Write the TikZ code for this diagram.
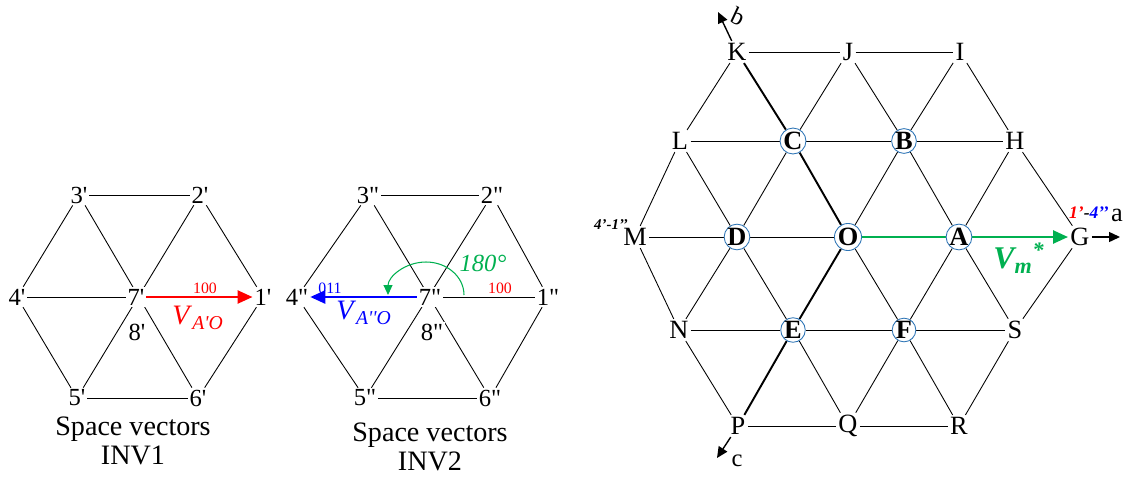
\documentclass[tikz,border=0pt]{standalone}
\usepackage{fontspec}
\setmainfont{Liberation Serif}
\definecolor{VecRed}  {RGB}{255, 0,   0}
\definecolor{VecBlue} {RGB}{0,   0,   255}
\definecolor{VecGreen}{RGB}{0,   176, 80}
\definecolor{RingBlue}{RGB}{46,  117, 182}
\usetikzlibrary{
  arrows.meta,
  backgrounds
}
\newcommand{\tq}{\textquotesingle}
\newcommand{\dq}{\textquotedbl}

\begin{document}
\begin{tikzpicture}[
  x=0.02cm, y=-0.02cm,
  lbl/.style={
    inner sep=1pt,
    font=\fontsize{14}{16}\selectfont},
  vtx/.style={
    inner sep=1.2pt,
    font=\fontsize{15}{17}\selectfont},
  ring/.style={
    circle, draw=RingBlue, fill=white,
    line width=0.5pt, inner sep=0pt,
    minimum size=0.38cm,
    font=\fontsize{15}{17}\selectfont\bfseries},
  caption/.style={
    align=center,
    font=\fontsize{16}{16.5}\selectfont},
  edge/.style={line width=0.5pt},
  axisline/.style={line width=1.1pt},
  vec/.style={
    -{Triangle[length=0.3cm, width=0.26cm]},
    line width=1.4pt},
  axarrow/.style={
    -{Triangle[length=0.22cm, width=0.2cm]},
    line width=0.8pt},
  note/.style={inner sep=0pt}
]
\useasboundingbox (0,0) rectangle (1130,477);

% INV1
\node[lbl] (a3) at (79,195) {3\tq};
\node[lbl] (a2) at (200,195) {2\tq};
\node[lbl] (a4) at (17,297) {4\tq};
\node[lbl] (a1) at (263,297) {1\tq};
\node[lbl] (a5) at (77,398) {5\tq};
\node[lbl] (a6) at (198,398) {6\tq};
\node[lbl, fill=white] (a7) at (136,297) {7\tq};
\node[lbl, fill=white] (a8) at (137,332) {8\tq};
\node[note, VecRed, font=\fontsize{9}{10}\selectfont]
  (a100) at (205,288) {100};
\node[note, VecRed, font=\fontsize{16}{18}\selectfont]
  (aV) at (198,318) {\textit{V}\textsubscript{\textit{A\tq O}}};
\node[caption] (acap) at (133,441) {Space vectors\\INV1};

\begin{scope}[on background layer]
\draw[edge] (a3) -- (a2);
\draw[edge] (a2) -- (a1);
\draw[edge] (a1) -- (a6);
\draw[edge] (a6) -- (a5);
\draw[edge] (a5) -- (a4);
\draw[edge] (a4) -- (a3);
\draw[edge] (a3) -- (a6);
\draw[edge] (a2) -- (a5);
\draw[edge] (a4) -- (a7);
\end{scope}
\draw[vec, VecRed] (a7) -- (a1);

% INV2
\node[lbl] (b3) at (368,195) {3\dq};
\node[lbl] (b2) at (492,195) {2\dq};
\node[lbl] (b4) at (297,297) {4\dq};
\node[lbl] (b1) at (548,297) {1\dq};
\node[lbl] (b5) at (365,398) {5\dq};
\node[lbl] (b6) at (490,398) {6\dq};
\node[lbl, fill=white] (b7) at (430,297) {7\dq};
\node[lbl, fill=white] (b8) at (432,332) {8\dq};
\node[note, VecBlue, font=\fontsize{9}{10}\selectfont]
  (b011) at (330,288) {011};
\node[note, VecRed, font=\fontsize{9}{10}\selectfont]
  (b100) at (500,288) {100};
\node[note, VecBlue, font=\fontsize{16}{18}\selectfont]
  (bV) at (364,313) {\textit{V}\textsubscript{\textit{A\tq\tq O}}};
\node[note, VecGreen, font=\fontsize{14}{16}\selectfont\itshape]
  (bang) at (483,263) {180°};
\node[caption] (bcap) at (430,447) {Space vectors\\INV2};

\begin{scope}[on background layer]
\draw[edge] (b3) -- (b2);
\draw[edge] (b2) -- (b1);
\draw[edge] (b1) -- (b6);
\draw[edge] (b6) -- (b5);
\draw[edge] (b5) -- (b4);
\draw[edge] (b4) -- (b3);
\draw[edge] (b3) -- (b6);
\draw[edge] (b2) -- (b5);
\draw[edge] (b7) -- (b1);
\end{scope}
\draw[vec, VecBlue] (b7) -- (b4);
\draw[VecGreen, line width=0.6pt,
  -{Triangle[length=0.2cm, width=0.18cm]}]
  (464,295) arc[start angle=0, end angle=180,
  x radius=0.76cm, y radius=0.66cm];

% combined hexagon
\node[vtx] (K) at (737,52) {K};
\node[vtx] (J) at (848,52) {J};
\node[vtx] (I) at (960,52) {I};
\node[vtx] (L) at (680,141) {L};
\node[ring] (C) at (793,141) {C};
\node[ring] (B) at (904,141) {B};
\node[vtx] (H) at (1015,141) {H};
\node[vtx] (M) at (635,237) {M};
\node[ring] (D) at (737,237) {D};
\node[ring] (O) at (848,237) {O};
\node[ring] (A) at (959,237) {A};
\node[vtx] (G) at (1080,237) {G};
\node[vtx] (N) at (679,330) {N};
\node[ring] (E) at (793,330) {E};
\node[ring] (F) at (904,330) {F};
\node[vtx] (S) at (1015,330) {S};
\node[vtx] (P) at (738,426) {P};
\node[vtx] (Q) at (848,426) {Q};
\node[vtx] (R) at (959,426) {R};

\coordinate (bEnd) at (718,12);
\coordinate (cEnd) at (717,458);
\coordinate (aEnd) at (1120,237);

\node[note, font=\fontsize{14}{16}\selectfont, rotate=-25]
  (bl) at (738,16) {b};
\node[note, font=\fontsize{14}{16}\selectfont]
  (cl) at (737,461) {c};
\node[note, font=\fontsize{15}{17}\selectfont]
  (al) at (1117,215) {a};
\node[note, font=\fontsize{8.5}{10}\selectfont\bfseries\itshape]
  (ml) at (611,225) {4'-1'{}'};
\node[note, font=\fontsize{10}{12}\selectfont\bfseries\itshape]
  (gl) at (1089,213)
  {\textcolor{VecRed}{1'}-\textcolor{VecBlue}{4'{}'}};
\node[note, VecGreen, font=\fontsize{18}{20}\selectfont\bfseries\itshape]
  (vm) at (1019,258) {V\textsubscript{m}\textsuperscript{*}};

\begin{scope}[on background layer]
% horizontal
\draw[edge] (K) -- (J);
\draw[edge] (J) -- (I);
\draw[edge] (L) -- (C);
\draw[edge] (C) -- (B);
\draw[edge] (B) -- (H);
\draw[edge] (M) -- (D);
\draw[edge] (D) -- (O);
\draw[edge] (N) -- (E);
\draw[edge] (E) -- (F);
\draw[edge] (F) -- (S);
\draw[edge] (P) -- (Q);
\draw[edge] (Q) -- (R);
% rising
\draw[edge] (M) -- (L);
\draw[edge] (L) -- (K);
\draw[edge] (N) -- (D);
\draw[edge] (D) -- (C);
\draw[edge] (C) -- (J);
\draw[edge] (O) -- (B);
\draw[edge] (B) -- (I);
\draw[edge] (Q) -- (F);
\draw[edge] (F) -- (A);
\draw[edge] (A) -- (H);
\draw[edge] (R) -- (S);
\draw[edge] (S) -- (G);
% falling
\draw[edge] (O) -- (F);
\draw[edge] (F) -- (R);
\draw[edge] (L) -- (D);
\draw[edge] (D) -- (E);
\draw[edge] (E) -- (Q);
\draw[edge] (M) -- (N);
\draw[edge] (N) -- (P);
\draw[edge] (J) -- (B);
\draw[edge] (B) -- (A);
\draw[edge] (A) -- (S);
\draw[edge] (I) -- (H);
\draw[edge] (H) -- (G);
% axes b and c
\draw[axisline] (K) -- (C);
\draw[axisline] (C) -- (O);
\draw[axisline] (O) -- (E);
\draw[axisline] (E) -- (P);
\draw[vec, VecGreen] (O) -- (G);
\end{scope}
\draw[axarrow] (K) -- (bEnd);
\draw[axarrow] (P) -- (cEnd);
\draw[axarrow] (G) -- (aEnd);

\end{tikzpicture}
\end{document}
